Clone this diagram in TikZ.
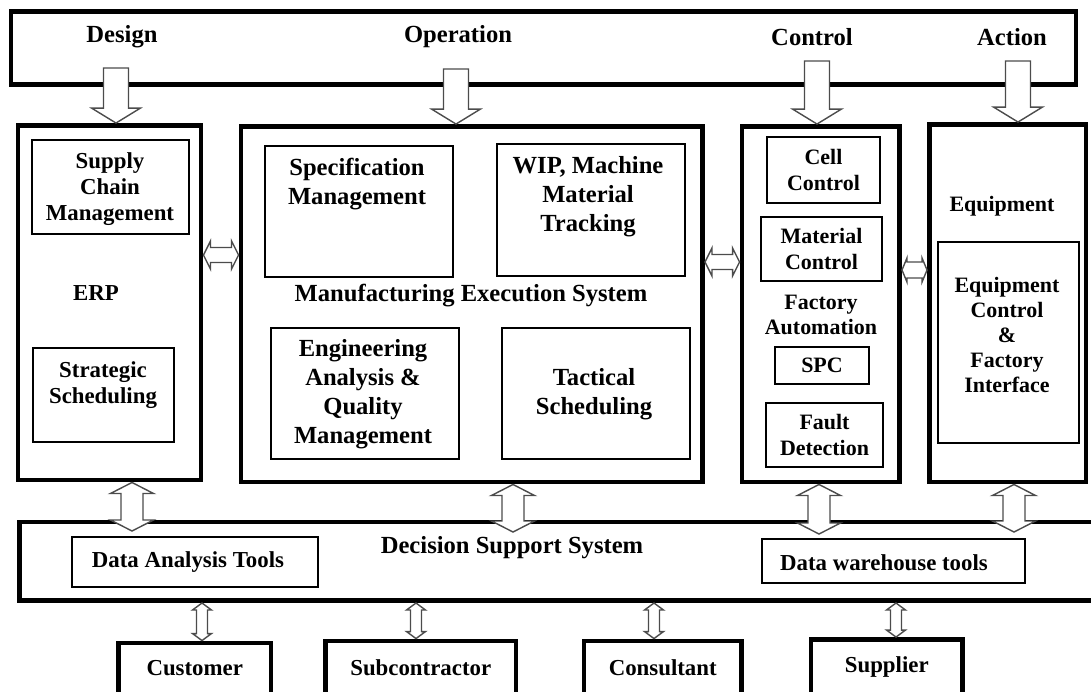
\documentclass[tikz,border=0pt]{standalone}
\usepackage{fontspec}
\setmainfont{Liberation Serif}
\usetikzlibrary{fit,calc}

\tikzset{
  every node/.style={font=\bfseries\fontsize{13}{15}\selectfont},
  bigtxt/.style={font=\bfseries\fontsize{14}{16.5}\selectfont},
  smalltxt/.style={font=\bfseries\fontsize{12.5}{14.3}\selectfont},
  bigbox/.style={draw, line width=2.8pt, inner sep=0pt},
  smallbox/.style={draw, line width=0.8pt, inner sep=0pt},
  lbl/.style={align=center},
  arr/.style={draw=black!70, fill=white, line width=0.8pt},
  downarr/.style={arr, to path={let \p1=(\tikztostart), \p2=(\tikztotarget) in
    (\x1-0.25cm,\y1) -- (\x1+0.25cm,\y1) -- (\x1+0.25cm,\y2+0.3cm) -- (\x1+0.49cm,\y2+0.3cm)
    -- (\x1,\y2) -- (\x1-0.49cm,\y2+0.3cm) -- (\x1-0.25cm,\y2+0.3cm) -- cycle}},
  vdbl/.style n args={3}{arr, to path={let \p1=(\tikztostart), \p2=(\tikztotarget) in
    (\x1,\y1) -- (\x1+#2,\y1-#3) -- (\x1+#1,\y1-#3) -- (\x1+#1,\y2+#3) -- (\x1+#2,\y2+#3)
    -- (\x1,\y2) -- (\x1-#2,\y2+#3) -- (\x1-#1,\y2+#3) -- (\x1-#1,\y1-#3) -- (\x1-#2,\y1-#3) -- cycle}},
  hdbl/.style n args={3}{arr, to path={let \p1=(\tikztostart), \p2=(\tikztotarget) in
    (\x1,\y1) -- (\x1+#3,\y1+#2) -- (\x1+#3,\y1+#1) -- (\x2-#3,\y1+#1) -- (\x2-#3,\y1+#2)
    -- (\x2,\y1) -- (\x2-#3,\y1-#2) -- (\x2-#3,\y1-#1) -- (\x1+#3,\y1-#1) -- (\x1+#3,\y1-#2) -- cycle}},
}

\begin{document}
\begin{tikzpicture}[x=0.02cm, y=-0.02cm]
  \useasboundingbox (0,0) rectangle (1091,691);

  % top bar
  \node[bigbox, fit={(11,11.5) (1076,84.5)}] (top) {};
  \node[bigtxt] (design) at (122,37) {Design};
  \node[bigtxt] (operation) at (458,37) {Operation};
  \node[bigtxt] (control) at (812,37) {Control};
  \node[bigtxt] (action) at (1012,37) {Action};

  % ERP
  \node[bigbox, fit={(18,125.5) (201,480)}] (erp) {};
  \node[smallbox, fit={(32,140) (189,234)}] (scm) {};
  \node[lbl] (scmtxt) at (110,189) {Supply\\Chain\\Management};
  \node (erptxt) at (96,293) {ERP};
  \node[smallbox, fit={(33,348) (174,442)}] (strat) {};
  \node[lbl] (strattxt) at (103,385) {Strategic\\Scheduling};

  % MES
  \node[bigbox, fit={(241,126.5) (702.5,482)}] (mes) {};
  \node[smallbox, fit={(265,146) (453,277)}] (spec) {};
  \node[lbl, bigtxt] (spectxt) at (357,184) {Specification\\Management};
  \node[smallbox, fit={(497,144) (685,276)}] (wip) {};
  \node[lbl, bigtxt] (wiptxt) at (588,197) {WIP, Machine\\Material\\Tracking};
  \node[bigtxt] (mestxt) at (471,296) {Manufacturing Execution System};
  \node[smallbox, fit={(271,328) (459,459)}] (eng) {};
  \node[lbl, bigtxt] (engtxt) at (363,394) {Engineering\\Analysis \&\\Quality\\Management};
  \node[smallbox, fit={(502,328) (690,459)}] (tact) {};
  \node[lbl, bigtxt] (tacttxt) at (594,394) {Tactical\\Scheduling};

  % factory automation
  \node[bigbox, fit={(742,126.5) (899.5,482)}] (fa) {};
  \node[smallbox, fit={(767,137) (880,203)}] (cell) {};
  \node[lbl, smalltxt] (celltxt) at (cell) {Cell\\Control};
  \node[smallbox, fit={(761,217) (882,281)}] (matc) {};
  \node[lbl, smalltxt] (matctxt) at (matc) {Material\\Control};
  \node[lbl, smalltxt] (fatxt) at (821,315) {Factory\\Automation};
  \node[smallbox, fit={(775,347) (869,384)}] (spc) {};
  \node[smalltxt] (spctxt) at (spc) {SPC};
  \node[smallbox, fit={(766,403) (883,467)}] (fault) {};
  \node[lbl, smalltxt] (faulttxt) at (fault) {Fault\\Detection};

  % equipment
  \node[bigbox, fit={(929.5,124.5) (1086,482)}] (equip) {};
  \node[smalltxt] (equiptxt) at (1002,206) {Equipment};
  \node[smallbox, fit={(938,242) (1079,443)}] (eci) {};
  \node[lbl, smalltxt] (ecitxt) at (1007,335) {Equipment\\Control\\\&\\Factory\\Interface};

  % decision support
  \node[bigbox, fit={(19.5,522) (1095,600.5)}] (dss) {};
  \node[bigtxt] (dsstxt) at (512,548) {Decision Support System};
  \node[smallbox, fit={(72,537) (318,587)}] (dat) {};
  \node (dattxt) at (188,562) {Data Analysis Tools};
  \node[smallbox, fit={(762,539) (1025,583)}] (dwt) {};
  \node (dwttxt) at (884,563) {Data warehouse tools};

  % partners
  \node[bigbox, fit={(118.5,643) (271,694)}] (cust) {};
  \node (custtxt) at (cust) {Customer};
  \node[bigbox, fit={(325.5,641) (516,694)}] (sub) {};
  \node (subtxt) at (sub) {Subcontractor};
  \node[bigbox, fit={(584,641) (741.5,694)}] (cons) {};
  \node (constxt) at (cons) {Consultant};
  \node[bigbox, fit={(811,639.5) (962.5,694)}] (supp) {};
  \node (supptxt) at (supp) {Supplier};

  % arrows from the top bar
  \coordinate (d1) at (116,68);
  \coordinate (d2) at (456,69);
  \coordinate (d3) at (817,61);
  \coordinate (d4) at (1018,61);
  \draw[downarr] (d1) to (d1 |- erp.north);
  \draw[downarr] (d2) to (d2 |- mes.north);
  \draw[downarr] (d3) to (d3 |- fa.north);
  \draw[downarr] (d4) to (d4 |- equip.north);

  % side links
  \coordinate (h1) at (0,255);
  \coordinate (h2) at (0,262);
  \coordinate (h3) at (0,270);
  \draw[hdbl={0.15cm}{0.28cm}{0.14cm}] (erp.east |- h1) to (mes.west |- h1);
  \draw[hdbl={0.15cm}{0.28cm}{0.14cm}] (mes.east |- h2) to (fa.west |- h2);
  \draw[hdbl={0.16cm}{0.24cm}{0.1cm}] (fa.east |- h3) to (equip.west |- h3);

  % links to decision support
  \coordinate (b1) at (132,531);
  \coordinate (b2) at (513,532);
  \coordinate (b3) at (819,534);
  \coordinate (b4) at (1014,532);
  \draw[vdbl={0.22cm}{0.43cm}{0.22cm}] (b1 |- erp.south) to (b1);
  \draw[vdbl={0.22cm}{0.43cm}{0.22cm}] (b2 |- mes.south) to (b2);
  \draw[vdbl={0.22cm}{0.43cm}{0.22cm}] (b3 |- fa.south) to (b3);
  \draw[vdbl={0.22cm}{0.43cm}{0.22cm}] (b4 |- equip.south) to (b4);

  % partner links
  \coordinate (c1) at (202,603);
  \coordinate (c2) at (416,603);
  \coordinate (c3) at (654,603);
  \coordinate (c4) at (896,603);
  \draw[vdbl={0.11cm}{0.19cm}{0.14cm}] (c1) to (c1 |- cust.north);
  \draw[vdbl={0.11cm}{0.19cm}{0.14cm}] (c2) to (c2 |- sub.north);
  \draw[vdbl={0.11cm}{0.19cm}{0.14cm}] (c3) to (c3 |- cons.north);
  \draw[vdbl={0.11cm}{0.19cm}{0.14cm}] (c4) to (c4 |- supp.north);
\end{tikzpicture}
\end{document}
